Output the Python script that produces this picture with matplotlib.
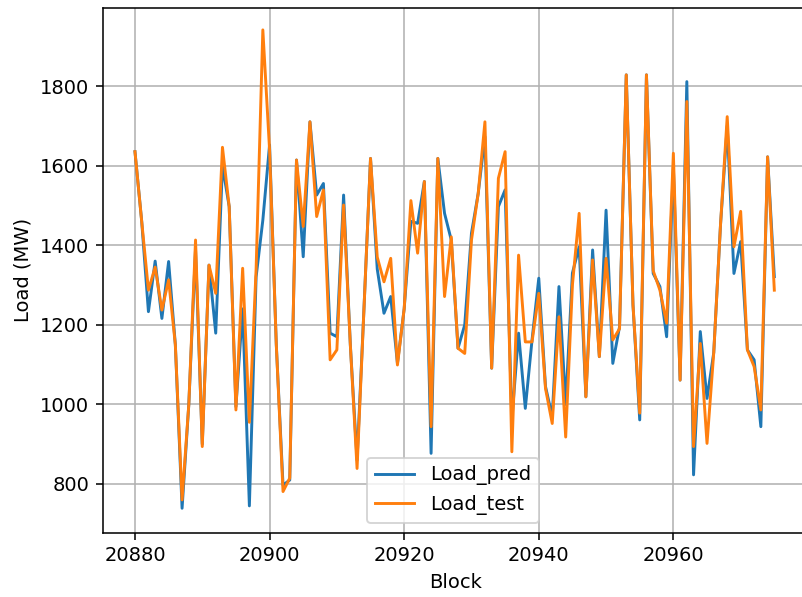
import numpy as np
import matplotlib
matplotlib.use("Agg")
import matplotlib.pyplot as plt

start_block = 20880

load_pred = [1635, 1460, 1233, 1360, 1216, 1359, 1150, 739, 1000, 1390,
             900, 1350, 1179, 1600, 1497, 994, 1240, 745, 1320, 1463,
             1652, 1150, 797, 810, 1614, 1371, 1710, 1526, 1555, 1179,
             1170, 1526, 1150, 860, 1230, 1618, 1340, 1229, 1271, 1103,
             1240, 1460, 1455, 1560, 877, 1618, 1480, 1413, 1141, 1200,
             1430, 1530, 1673, 1091, 1497, 1539, 960, 1179, 990, 1162,
             1317, 1045, 969, 1296, 1000, 1330, 1396, 1019, 1388, 1120,
             1488, 1103, 1195, 1828, 1250, 961, 1828, 1329, 1296, 1170,
             1597, 1061, 1811, 823, 1183, 1015, 1130, 1450, 1700, 1329,
             1409, 1137, 1112, 944, 1622, 1321]

load_test = [1635, 1460, 1287, 1345, 1237, 1313, 1150, 760, 1000, 1413,
             894, 1350, 1279, 1646, 1497, 986, 1342, 955, 1340, 1941,
             1640, 1150, 781, 815, 1614, 1447, 1710, 1472, 1539, 1112,
             1137, 1501, 1150, 839, 1230, 1618, 1370, 1308, 1367, 1099,
             1240, 1512, 1380, 1560, 944, 1618, 1271, 1421, 1141, 1128,
             1413, 1530, 1710, 1091, 1568, 1635, 881, 1375, 1157, 1157,
             1279, 1040, 952, 1220, 918, 1300, 1480, 1019, 1363, 1120,
             1367, 1162, 1190, 1828, 1250, 978, 1828, 1336, 1287, 1204,
             1631, 1061, 1761, 894, 1153, 902, 1130, 1450, 1723, 1396,
             1485, 1137, 1095, 986, 1622, 1287]

blocks = np.arange(start_block, start_block + len(load_pred))

dpi = 140
fig = plt.figure(figsize=(802 / dpi, 597 / dpi), dpi=dpi)
# the reference is a crop: axes run off the top and right edges
ax = fig.add_axes([103 / 802, 64.3 / 597, 706 / 802, 524.7 / 597])

ax.plot(blocks, load_pred, label="Load_pred")
ax.plot(blocks, load_test, label="Load_test")

ax.set_xlim(20875.25, 20875.25 + 706 / 6.73)
ax.set_ylim(677.6, 1996)
ax.set_xticks([20880, 20900, 20920, 20940, 20960])
ax.set_xlabel("Block")
ax.set_ylabel("Load (MW)")
ax.grid(True)
ax.legend(loc="lower center", bbox_to_anchor=((453 - 103) / 706, 0))

fig.savefig("out.png", dpi=dpi)
